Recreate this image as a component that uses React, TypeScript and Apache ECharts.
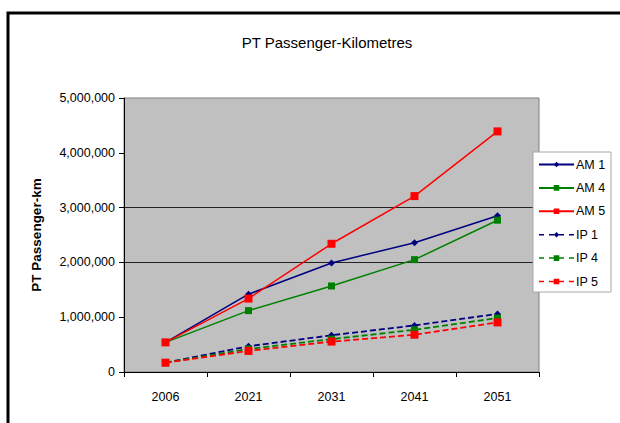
import React, { useEffect, useRef } from "react";
import * as echarts from "echarts";

const years = ["2006", "2021", "2031", "2041", "2051"];
const am1 = [540000, 1420000, 1990000, 2360000, 2850000];
const am4 = [540000, 1120000, 1570000, 2050000, 2770000];
const am5 = [540000, 1340000, 2340000, 3210000, 4390000];
const ip1 = [170000, 470000, 670000, 850000, 1060000];
const ip4 = [170000, 420000, 600000, 770000, 985000];
const ip5 = [170000, 385000, 555000, 680000, 905000];
const seriesNames = ["AM 1", "AM 4", "AM 5", "IP 1", "IP 4", "IP 5"];
const titleText = "PT Passenger-Kilometres";
const yAxisName = "PT Passenger-km";

const FONT = "'Liberation Sans', Arial, sans-serif";
const NAVY = "#000080";
const GREEN = "#008000";
const RED = "#FF0000";

export default function App() {
  const ref = useRef<HTMLDivElement>(null);
  useEffect(() => {
    document.body.style.margin = "0";
    const chart = echarts.init(ref.current!, null, { renderer: "svg" });
    const mk = (
      name: string,
      data: number[],
      color: string,
      dashed: boolean,
      symbol: string,
      size: number
    ) => ({
      name,
      type: "line",
      data,
      symbol,
      symbolSize: size,
      showAllSymbol: true,
      itemStyle: { color },
      lineStyle: { color, width: dashed ? 1.8 : 1.5, type: dashed ? [6, 3] : "solid" },
      emphasis: { disabled: true },
    });
    const legendItem = (name: string, color: string, dashed: boolean) => ({
      name,
      lineStyle: { color, width: dashed ? 1.5 : 2, type: dashed ? [5, 5] : "solid" },
    });
    chart.setOption({
      animation: false,
      textStyle: { fontFamily: FONT },
      title: {
        text: titleText,
        left: 322,
        textAlign: "center",
        top: 30,
        textStyle: { fontFamily: FONT, fontSize: 15, fontWeight: "normal", color: "#000" },
      },
      grid: {
        left: 124,
        right: 81,
        top: 98,
        bottom: 51,
        show: true,
        backgroundColor: "#C0C0C0",
        borderColor: "#808080",
        borderWidth: 1,
      },
      legend: {
        orient: "vertical",
        left: 538,
        top: 158,
        itemWidth: 35,
        itemHeight: 7,
        itemGap: 10.4,
        padding: 0,
        z: 4,
        textStyle: { fontFamily: FONT, fontSize: 12.5, color: "#000", padding: [0, 0, 0, -3] },
        data: [
          legendItem(seriesNames[0], NAVY, false),
          legendItem(seriesNames[1], GREEN, false),
          legendItem(seriesNames[2], RED, false),
          legendItem(seriesNames[3], NAVY, true),
          legendItem(seriesNames[4], GREEN, true),
          legendItem(seriesNames[5], RED, true),
        ],
      },
      xAxis: {
        type: "category",
        data: years,
        boundaryGap: true,
        axisLine: { lineStyle: { color: "#000", width: 1 } },
        axisTick: { show: true, length: 5, lineStyle: { color: "#000" } },
        axisLabel: { fontFamily: FONT, fontSize: 12.5, color: "#000", margin: 18 },
        splitLine: { show: false },
      },
      yAxis: {
        type: "value",
        min: 0,
        max: 5000000,
        interval: 1000000,
        name: yAxisName,
        nameLocation: "middle",
        nameGap: 81,
        nameTextStyle: { fontFamily: FONT, fontSize: 13.5, fontWeight: "bold", color: "#000" },
        axisLine: { show: true, lineStyle: { color: "#000", width: 1 } },
        axisTick: { show: true, length: 5, lineStyle: { color: "#000" } },
        axisLabel: {
          fontFamily: FONT,
          fontSize: 12.5,
          color: "#000",
          margin: 9,
          formatter: (v: number) => v.toLocaleString("en-US"),
        },
        splitLine: {
          show: true,
          lineStyle: {
            color: ["rgba(0,0,0,0)", "rgba(0,0,0,0)", "#222", "#222", "rgba(0,0,0,0)", "rgba(0,0,0,0)"],
            width: 1.2,
          },
        },
      },
      graphic: [
        {
          type: "rect",
          z: 3,
          shape: { x: 533, y: 152, width: 78, height: 140 },
          style: { fill: "#fff", stroke: "#a8a8a8", lineWidth: 1 },
        },
        {
          type: "rect",
          z: 10,
          shape: { x: 8, y: 13, width: 700, height: 600 },
          style: { fill: "none", stroke: "#000", lineWidth: 3 },
        },
      ],
      series: [
        mk(seriesNames[0], am1, NAVY, false, "diamond", 7),
        mk(seriesNames[1], am4, GREEN, false, "rect", 7),
        mk(seriesNames[2], am5, RED, false, "rect", 8),
        mk(seriesNames[3], ip1, NAVY, true, "diamond", 7),
        mk(seriesNames[4], ip4, GREEN, true, "rect", 7),
        mk(seriesNames[5], ip5, RED, true, "rect", 8),
      ],
    });
    return () => chart.dispose();
  }, []);
  return <div ref={ref} style={{ width: 620, height: 423, background: "#fff" }} />;
}
